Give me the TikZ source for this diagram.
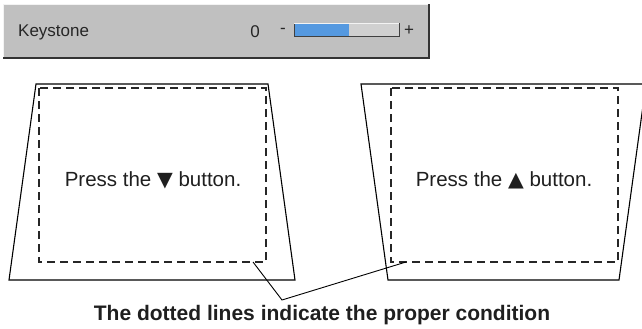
\documentclass[tikz,border=0pt]{standalone}
\usepackage{fontspec}
\setmainfont{Liberation Sans}
\newfontfamily\symfont{DejaVu Sans}
\usetikzlibrary{positioning}
\definecolor{panelgray}{HTML}{C0C0C0}
\definecolor{barblue}{HTML}{5599E0}
\tikzset{
  screen/.style={draw=black, line width=1.1pt, line join=miter},
  proper/.style={draw=black!85, dash pattern=on 8pt off 5pt, line width=1.2pt},
  hint/.style={font=\fontsize{20.5}{24}\selectfont, text=black!88, inner sep=0pt},
  osd/.style={font=\fontsize{17}{20}\selectfont, text=black!85, inner sep=0pt}
}
\begin{document}
\begin{tikzpicture}[x=1pt,y=-1pt]
  \useasboundingbox (0,0) rectangle (642,329);
  % on-screen menu bar
  \fill[panelgray] (3,4) rectangle (429,58);
  \draw[white!80!panelgray, line width=1pt] (3.5,57) -- (3.5,4.5) -- (428,4.5);
  \draw[black!80, line width=1.2pt] (3,58) -- (429,58) -- (429,4);
  \node[osd, anchor=west] (keylbl) at (18,32) {Keystone};
  \node[osd] (zero) at (255,32) {0};
  \node[osd] (minus) at (283,31) {-};
  \fill[panelgray!75!white] (294,23) rectangle (399,37);
  \fill[barblue] (295,24) rectangle (349,36);
  \draw[black!45, line width=0.8pt] (349,36) -- (295,36);
  \draw[white!80!panelgray, line width=0.8pt] (294,23.4) -- (399,23.4);
  \draw[black!75, line width=1pt] (294.5,24) -- (294.5,37) -- (399,37) -- (399,23);
  \node[osd] (plus) at (409,31) {+};
  % screens
  \draw[screen] (36,84) -- (268,84) -- (295,280) -- (9,280) -- cycle;
  \draw[proper] (39,88) rectangle (266,262);
  \draw[screen] (361,84) -- (646,84) -- (619,280) -- (388,280) -- cycle;
  \draw[proper] (391,88) rectangle (618,262);
  \node[hint] (pressdown) at (153,180) {Press the {\symfont ▼} button.};
  \node[hint] (pressup) at (504,180) {Press the {\symfont ▲} button.};
  % leader to the caption
  \coordinate (lefttick) at (253,262);
  \coordinate (righttick) at (406,262);
  \coordinate (kink) at (282,300);
  \draw[line width=0.9pt] (lefttick) -- (kink) -- (righttick);
  \node[font=\bfseries\fontsize{21}{25}\selectfont, text=black!88] (caption) at (322,315)
    {The dotted lines indicate the proper condition};
\end{tikzpicture}
\end{document}
